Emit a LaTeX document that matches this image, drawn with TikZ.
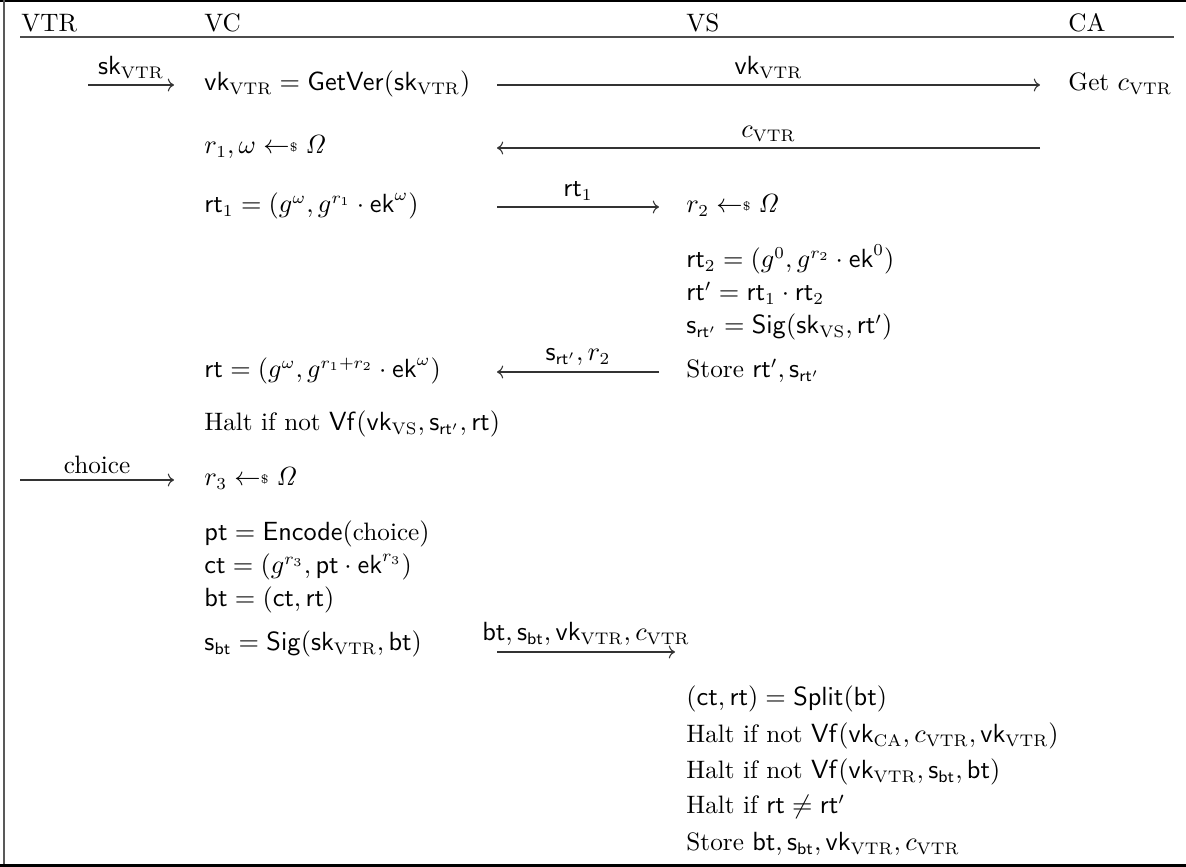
\documentclass[tikz,border=0pt]{standalone}
\usepackage{amsmath}
\usepackage{tikz}
\usetikzlibrary{arrows.meta}

\newcommand{\skey}{\mathsf{sk}}
\newcommand{\vkey}{\mathsf{vk}}
\newcommand{\ekey}{\mathsf{ek}}
\newcommand{\rtok}{\mathsf{rt}}
\newcommand{\btok}{\mathsf{bt}}
\newcommand{\ctxt}{\mathsf{ct}}
\newcommand{\ptxt}{\mathsf{pt}}
\newcommand{\sval}{\mathsf{s}}
\newcommand{\VTR}{\mathrm{VTR}}
\newcommand{\Sig}{\mathsf{Sig}}
\newcommand{\Vf}{\mathsf{Vf}}
\newcommand{\smpl}{\mathrel{\leftarrow\mkern-5mu\vcenter{\hbox{\tiny\$}}}}
\newcommand{\Om}{\mathit{\Omega}}

\begin{document}
\begin{tikzpicture}[x=0.41667pt, y=-0.41667pt,
  lbl/.style={anchor=base west, inner sep=0pt, font=\fontsize{10.5}{13}\selectfont},
  tag/.style={midway, above=2.5pt, inner sep=0pt, text=black, font=\fontsize{10.5}{13}\selectfont},
  msg/.style={-{Computer Modern Rightarrow}, line width=0.45pt, draw=black!80}]
  \useasboundingbox (0,0) rectangle (1186,867);
  % frame
  \draw[line width=0.9pt] (0,1) -- (1186,1);
  \draw[line width=0.8pt, black!65] (4,0) -- (4,867);
  \draw[line width=0.9pt] (0,865.5) -- (1186,865.5);
  \draw[line width=0.5pt, black!70] (20,37) -- (1174,37);
  % parties
  \node[lbl] (hvtr) at (21,32) {VTR};
  \node[lbl] (hvc)  at (204,32) {VC};
  \node[lbl] (hvs)  at (686,32) {VS};
  \node[lbl] (hca)  at (1068,32) {CA};
  % VC column
  \node[lbl] (getver) at (204,91) {$\vkey_{\VTR} = \mathsf{GetVer}(\skey_{\VTR})$};
  \node[lbl] (samp1)  at (204,154) {$r_1, \omega \smpl \Om$};
  \node[lbl] (rtone)  at (204,213) {$\rtok_1 = (g^{\omega}, g^{r_1} \cdot \ekey^{\omega})$};
  \node[lbl] (rtfull) at (204,378) {$\rtok = (g^{\omega}, g^{r_1+r_2} \cdot \ekey^{\omega})$};
  \node[lbl] (haltvs) at (204,431) {Halt if not $\Vf(\vkey_{\mathrm{VS}}, \sval_{\rtok'}, \rtok)$};
  \node[lbl] (samp3)  at (204,486) {$r_3 \smpl \Om$};
  \node[lbl] (encode) at (204,541) {$\ptxt = \mathsf{Encode}(\text{choice})$};
  \node[lbl] (encct)  at (204,574) {$\ctxt = (g^{r_3}, \ptxt \cdot \ekey^{r_3})$};
  \node[lbl] (encbt)  at (204,607) {$\btok = (\ctxt, \rtok)$};
  \node[lbl] (sigbt)  at (204,651) {$\sval_{\btok} = \Sig(\skey_{\VTR}, \btok)$};
  % VS column
  \node[lbl] (samp2)  at (686,213) {$r_2 \smpl \Om$};
  \node[lbl] (rttwo)  at (686,268) {$\rtok_2 = (g^{0}, g^{r_2} \cdot \ekey^{0})$};
  \node[lbl] (rtprm)  at (686,301) {$\rtok' = \rtok_1 \cdot \rtok_2$};
  \node[lbl] (sigrt)  at (686,334) {$\sval_{\rtok'} = \Sig(\skey_{\mathrm{VS}}, \rtok')$};
  \node[lbl] (storert) at (686,378) {Store $\rtok', \sval_{\rtok'}$};
  \node[lbl] (split)  at (686,706) {$(\ctxt, \rtok) = \mathsf{Split}(\btok)$};
  \node[lbl] (haltca) at (686,743) {Halt if not $\Vf(\vkey_{\mathrm{CA}}, c_{\VTR}, \vkey_{\VTR})$};
  \node[lbl] (haltbt) at (686,779) {Halt if not $\Vf(\vkey_{\VTR}, \sval_{\btok}, \btok)$};
  \node[lbl] (haltrt) at (686,814) {Halt if $\rtok \neq \rtok'$};
  \node[lbl] (storebt) at (686,851) {Store $\btok, \sval_{\btok}, \vkey_{\VTR}, c_{\VTR}$};
  % CA column
  \node[lbl] (getc) at (1068,91) {Get $c_{\VTR}$};
  % message ends
  \coordinate (skA) at (88,85);   \coordinate (skB) at (174,85);
  \coordinate (vkA) at (497,85);  \coordinate (vkB) at (1040,85);
  \coordinate (cA)  at (1040,148); \coordinate (cB) at (497,148);
  \coordinate (r1A) at (497,207); \coordinate (r1B) at (659,207);
  \coordinate (sA)  at (659,372); \coordinate (sB) at (497,372);
  \coordinate (chA) at (20,480);  \coordinate (chB) at (174,480);
  \coordinate (btA) at (497,652); \coordinate (btB) at (675,652);
  % messages
  \draw[msg] (skA) -- (skB) node[tag] {$\skey_{\VTR}$};
  \draw[msg] (vkA) -- (vkB) node[tag] {$\vkey_{\VTR}$};
  \draw[msg] (cA) -- (cB) node[tag] {$c_{\VTR}$};
  \draw[msg] (r1A) -- (r1B) node[tag] {$\rtok_1$};
  \draw[msg] (sA) -- (sB) node[tag] {$\sval_{\rtok'}, r_2$};
  \draw[msg] (chA) -- (chB) node[tag] {choice};
  \draw[msg] (btA) -- (btB) node[tag] {$\btok, \sval_{\btok}, \vkey_{\VTR}, c_{\VTR}$};
\end{tikzpicture}
\end{document}
